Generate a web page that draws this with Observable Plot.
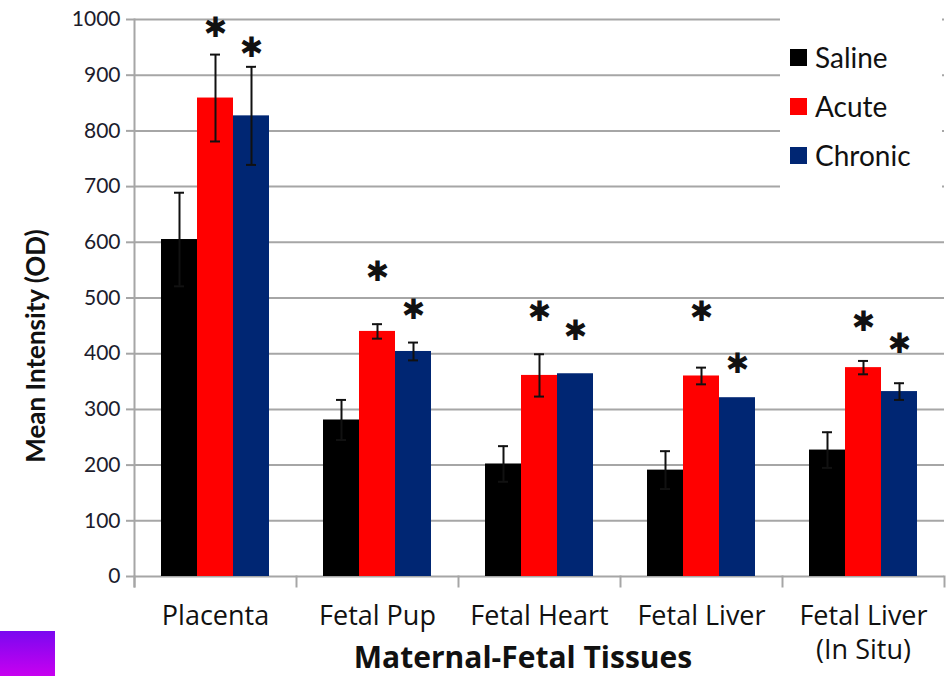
<!DOCTYPE html>
<html><head><meta charset="utf-8">
<script src="https://cdn.jsdelivr.net/npm/d3@7"></script>
<script src="https://cdn.jsdelivr.net/npm/@observablehq/plot@0.6"></script>
<style>
body{margin:0;background:#fff;}
#wrap{position:relative;width:948px;height:676px;overflow:hidden;font-family:Lato,"Open Sans",sans-serif;}
#legend{position:absolute;left:780px;top:12px;width:162px;height:185px;background:#fff;}
.item{position:absolute;left:10px;display:flex;align-items:center;font-size:28px;line-height:1;color:#111;}
.sw{width:17px;height:17px;margin-right:8px;}
#xtitle{position:absolute;left:0;width:1046px;top:642px;text-align:center;font-family:"Open Sans",sans-serif;font-weight:bold;font-size:30px;line-height:1;color:#111;}
#ytitle{position:absolute;left:35px;top:346px;transform:translate(-50%,-50%) rotate(-90deg);white-space:nowrap;font-weight:bold;font-size:26px;line-height:1;color:#111;}
#blob{position:absolute;left:0;top:631px;width:55px;height:45px;background:linear-gradient(#7a08f0,#c800f0);}
</style></head><body><div id="wrap"></div>
<script>
const categories = ["Placenta", "Fetal Pup", "Fetal Heart", "Fetal Liver", "Fetal Liver\n(In Situ)"];
const series = ["Saline", "Acute", "Chronic"];
const colors = ["#000000", "#ff0000", "#002673"];
const salineValues = [605, 281, 202, 191, 227];
const acuteValues = [859, 440, 361, 360, 375];
const chronicValues = [827, 404, 364, 321, 332];
const salineErrors = [84, 36, 32, 34, 32];
const acuteErrors = [78, 13, 38, 15, 12];
const chronicErrors = [88, 16, null, null, 15];
const acuteStars = [985, 546, 474, 474, 456];
const chronicStars = [948, 479, 440, 382, 417];
const salineStars = [null, null, null, null, null];
const yTicks = [0, 100, 200, 300, 400, 500, 600, 700, 800, 900, 1000];
const xTitle = "Maternal-Fetal Tissues";
const yTitle = "Mean Intensity (OD)";

const valuesBySeries = [salineValues, acuteValues, chronicValues];
const errorsBySeries = [salineErrors, acuteErrors, chronicErrors];
const starsBySeries = [salineStars, acuteStars, chronicStars];
const rows = [];
categories.forEach((c, i) => series.forEach((s, j) => rows.push({
  category: c, series: s, value: valuesBySeries[j][i], err: errorsBySeries[j][i], star: starsBySeries[j][i]
})));
const errRows = rows.filter(d => d.err != null);
const starRows = rows.filter(d => d.star != null);

const W = 948, H = 676, mt = 19, mb = 100, ml = 133, mr = 3;
const innerH = H - mt - mb;
const gray = "#a6a6a6";

const chart = Plot.plot({
  width: W, height: H, marginTop: mt, marginBottom: mb, marginLeft: ml, marginRight: mr,
  style: {fontFamily: "Lato, 'Open Sans', sans-serif", background: "white", color: "#1a1a1a"},
  fx: {domain: categories, padding: 0, label: null},
  x: {domain: series, paddingInner: 0, paddingOuter: 0.75, axis: null, label: null},
  y: {domain: [0, 1000], label: null},
  color: {domain: series, range: colors},
  marks: [
    Plot.gridY(yTicks, {stroke: gray, strokeOpacity: 1, strokeWidth: 2}),
    Plot.frame({anchor: "left", facetAnchor: "left", stroke: gray, strokeWidth: 2, insetBottom: -10}),
    Plot.frame({anchor: "left", stroke: gray, strokeWidth: 2, insetTop: innerH, insetBottom: -10}),
    Plot.frame({anchor: "right", facetAnchor: "right", stroke: gray, strokeWidth: 2, insetTop: innerH, insetBottom: -10}),
    Plot.barY(rows, {fx: "category", x: "series", y: "value", fill: "series"}),
    Plot.ruleX(errRows, {fx: "category", x: "series", y1: d => d.value - d.err, y2: d => d.value + d.err, stroke: "#111", strokeWidth: 2}),
    Plot.tickY(errRows, {fx: "category", x: "series", y: d => d.value + d.err, stroke: "#111", strokeWidth: 2, inset: 13}),
    Plot.tickY(errRows, {fx: "category", x: "series", y: d => d.value - d.err, stroke: "#111", strokeWidth: 2, inset: 13}),
    Plot.text(starRows, {fx: "category", x: "series", y: "star", text: () => "\u2731", fontSize: 28, fontFamily: "DejaVu Sans", fill: "#111"}),
    Plot.axisY(yTicks, {tickSize: 8, tickPadding: 6, fontSize: 21, stroke: gray, strokeWidth: 2, label: null, fill: "#1c1c2c", tickFormat: d => String(d)}),
    Plot.axisFx({anchor: "bottom", tickSize: 0, tickPadding: 24, fontSize: 27, fontFamily: "'Open Sans', sans-serif", lineHeight: 1.27, label: null, fill: "#111"})
  ]
});

const wrap = document.getElementById("wrap");
wrap.appendChild(chart);

const legend = document.createElement("div");
legend.id = "legend";
series.forEach((s, j) => {
  const it = document.createElement("div");
  it.className = "item";
  it.style.top = (31 + j * 49) + "px";
  const sw = document.createElement("span");
  sw.className = "sw";
  sw.style.background = colors[j];
  const tx = document.createElement("span");
  tx.textContent = s;
  it.appendChild(sw); it.appendChild(tx);
  legend.appendChild(it);
});
wrap.appendChild(legend);

const xt = document.createElement("div"); xt.id = "xtitle"; xt.textContent = xTitle; wrap.appendChild(xt);
const yt = document.createElement("div"); yt.id = "ytitle"; yt.textContent = yTitle; wrap.appendChild(yt);
const blob = document.createElement("div"); blob.id = "blob"; wrap.appendChild(blob);
</script>
</body></html>
